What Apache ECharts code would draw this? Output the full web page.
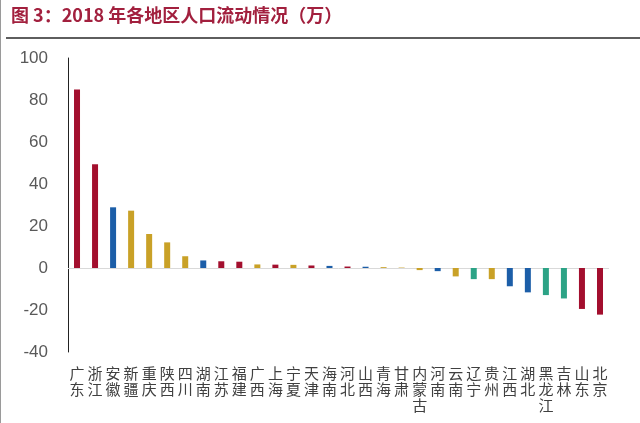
<!DOCTYPE html>
<html>
<head>
<meta charset="utf-8">
<script src="https://cdn.jsdelivr.net/npm/echarts@6/dist/echarts.min.js"></script>
<style>
html,body{margin:0;padding:0;background:#fff;}
#c{width:640px;height:423px;}
</style>
</head>
<body>
<div id="c"></div>
<script>
const titleText = '图 3：2018 年各地区人口流动情况（万）';
const categories = ['广东','浙江','安徽','新疆','重庆','陕西','四川','湖南','江苏','福建','广西','上海','宁夏','天津','海南','河北','山西','青海','甘肃','内蒙古','河南','云南','辽宁','贵州','江西','湖北','黑龙江','吉林','山东','北京'];
const values = [85, 49.4, 28.9, 27.3, 16.2, 12.2, 5.6, 3.6, 3.2, 3.0, 1.7, 1.6, 1.5, 1.2, 1.0, 0.7, 0.6, 0.4, 0.2, -1.0, -1.5, -4.0, -5.3, -5.3, -8.7, -11.6, -12.9, -14.5, -19.5, -22.2];
const groups = ['E','E','C','W','W','W','W','C','E','E','W','E','W','E','C','E','C','W','W','W','C','W','N','W','C','C','N','N','E','E'];
const yTicks = {min: -40, max: 100, interval: 20};

const groupColor = {E: '#A30F2E', C: '#1C5EA8', W: '#C9A127', N: '#2CA386'};

const chart = echarts.init(document.getElementById('c'));
chart.setOption({
  animation: false,
  backgroundColor: '#fff',
  graphic: [
    {type: 'text', left: 11, top: 6, style: {text: titleText, fill: '#A2203E', font: 'bold 18px "Noto Sans CJK SC", sans-serif'}},
    {type: 'rect', shape: {x: 6, y: 37, width: 640, height: 2}, style: {fill: '#5e5e5e'}},
    {type: 'rect', shape: {x: 0, y: 0, width: 1, height: 423}, style: {fill: '#9a9a9a'}}
  ],
  grid: {left: 68, right: 31, top: 58, bottom: 71, containLabel: false},
  xAxis: {
    type: 'category',
    data: categories,
    axisLine: {show: false, onZero: false},
    axisTick: {show: false},
    axisLabel: {
      interval: 0,
      margin: 13,
      color: '#404040',
      fontSize: 15,
      lineHeight: 16,
      fontFamily: '"Noto Sans CJK SC", sans-serif',
      verticalAlign: 'top',
      formatter: v => v.split('').join('\n')
    }
  },
  yAxis: {
    type: 'value',
    min: yTicks.min, max: yTicks.max, interval: yTicks.interval,
    axisLine: {show: true, lineStyle: {color: '#222', width: 1}},
    axisTick: {show: false},
    splitLine: {show: false},
    axisLabel: {color: '#595959', fontSize: 17, margin: 20, fontFamily: '"Liberation Sans", Arial, sans-serif'}
  },
  series: [{
    type: 'bar',
    barWidth: 6,
    data: values.map((v, i) => ({value: v, itemStyle: {color: groupColor[groups[i]]}})),
    markLine: {
      silent: true,
      symbol: 'none',
      label: {show: false},
      lineStyle: {color: '#d9d9d9', width: 1, type: 'solid'},
      data: [{yAxis: 0}],
      z: 1
    },
    z: 3
  }]
});
</script>
</body>
</html>
